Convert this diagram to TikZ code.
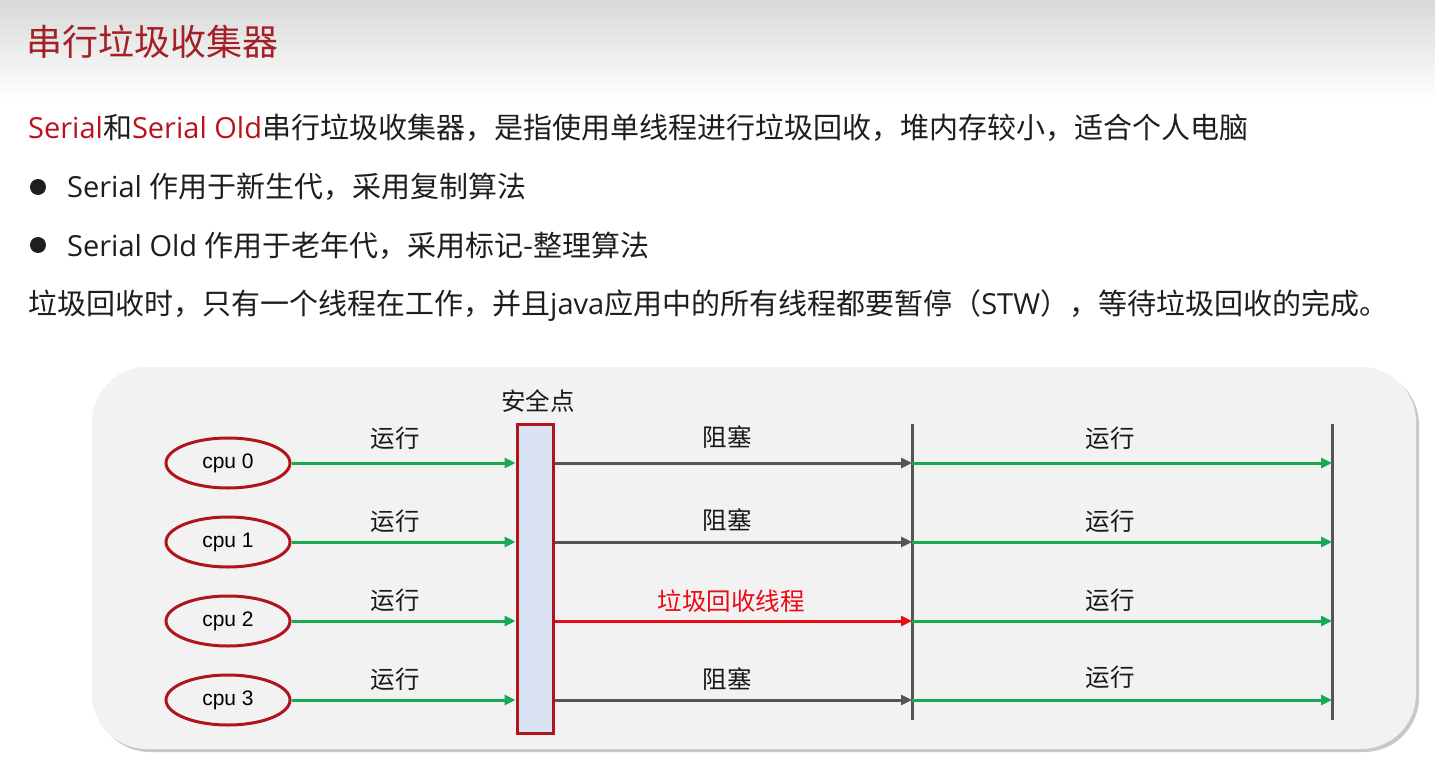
\documentclass[tikz,border=0pt]{standalone}
\usepackage{fontspec}
\setmainfont{Noto Sans CJK SC}
\newfontfamily\lat{Open Sans}
\newfontfamily\arialf{Liberation Sans}
\usetikzlibrary{arrows.meta,shapes.geometric}
\definecolor{titlered}{RGB}{163,32,38}
\definecolor{serred}{RGB}{185,18,28}
\definecolor{txt}{RGB}{30,30,30}
\definecolor{panel}{RGB}{242,242,242}
\definecolor{panelshadow}{RGB}{200,200,200}
\definecolor{ellred}{RGB}{176,20,28}
\definecolor{barblue}{RGB}{218,227,243}
\definecolor{arrgreen}{RGB}{24,170,80}
\definecolor{arrgrey}{RGB}{85,85,85}
\definecolor{gcred}{RGB}{235,10,20}
\tikzset{
  body/.style={anchor=base west, inner sep=0, text=txt, font=\fontsize{29}{34}\selectfont},
  cpu/.style={ellipse, draw=ellred, line width=3pt, fill=panel, minimum width=124pt, minimum height=50pt, inner sep=0, font=\arialf\fontsize{21}{24}\selectfont, text=black},
  lbl/.style={inner sep=0, text=black!90, font=\fontsize{24.5}{28}\selectfont},
  tipA/.style={-{Triangle[length=11pt,width=10pt]}, line width=3pt},
  garrow/.style={tipA, draw=arrgreen},
  karrow/.style={tipA, draw=arrgrey},
  rarrow/.style={tipA, draw=gcred},
  vline/.style={draw=arrgrey, line width=3pt}
}
\begin{document}
\begin{tikzpicture}[x=1pt,y=-1pt]
\useasboundingbox (0,0) rectangle (1435,762);
\fill[white] (0,0) rectangle (1435,762);
\shade[top color=black!15, bottom color=white] (0,0) rectangle (1435,100);
% title
\node[anchor=west, inner sep=0, text=titlered, font=\fontsize{36}{40}\selectfont] (title) at (26,42) {串行垃圾收集器};
% body text
\node[body] (l1) at (28,139) {\textcolor{serred}{\lat Serial}和\textcolor{serred}{\lat Serial Old}串行垃圾收集器，是指使用单线程进行垃圾回收，堆内存较小，适合个人电脑};
\node[circle, fill=txt, minimum size=16pt, inner sep=0] (b1) at (38,187) {};
\node[body] (l2) at (67,198) {{\lat Serial }作用于新生代，采用复制算法};
\node[circle, fill=txt, minimum size=16pt, inner sep=0] (b2) at (38,245) {};
\node[body] (l3) at (67,256) {{\lat Serial Old }作用于老年代，采用标记-整理算法};
\node[body] (l4) at (28,314) {垃圾回收时，只有一个线程在工作，并且{\lat java}应用中的所有线程都要暂停（{\lat STW}），等待垃圾回收的完成。};
% panel
\fill[panelshadow, rounded corners=55pt] (95,370) rectangle (1419,752);
\fill[panel, rounded corners=55pt] (92,367) rectangle (1416,749);
% cpus
\node[cpu] (c0) at (228,463) {cpu 0};
\node[cpu] (c1) at (228,542) {cpu 1};
\node[cpu] (c2) at (228,621) {cpu 2};
\node[cpu] (c3) at (228,700) {cpu 3};
% safepoint bar
\node[draw=ellred, fill=barblue, line width=3pt, minimum width=36pt, minimum height=309pt, inner sep=0] (sp) at (535,578.5) {};
\node[lbl] (spl) at (538,401) {安全点};
% vertical lines
\coordinate (v1t) at (912,424);
\coordinate (v1b) at (912,720);
\coordinate (v2t) at (1332,424);
\coordinate (v2b) at (1332,720);
\draw[vline] (v1t) -- (v1b);
\draw[vline] (v2t) -- (v2b);
% arrows
\foreach \i in {0,1,2,3} {
  \draw[garrow] (c\i.east) -- (sp.west |- c\i);
  \draw[garrow] (v1t |- c\i) -- (v2t |- c\i);
}
\draw[karrow] (sp.east |- c0) -- (v1t |- c0);
\draw[karrow] (sp.east |- c1) -- (v1t |- c1);
\draw[rarrow] (sp.east |- c2) -- (v1t |- c2);
\draw[karrow] (sp.east |- c3) -- (v1t |- c3);
% labels
\node[lbl] (r0) at (395,438) {运行};
\node[lbl] (r1) at (395,521) {运行};
\node[lbl] (r2) at (395,600) {运行};
\node[lbl] (r3) at (395,679) {运行};
\node[lbl] (k0) at (727,437) {阻塞};
\node[lbl] (k1) at (727,520) {阻塞};
\node[lbl, text=gcred] (k2) at (731,601) {垃圾回收线程};
\node[lbl] (k3) at (727,679) {阻塞};
\node[lbl] (s0) at (1110,438) {运行};
\node[lbl] (s1) at (1110,521) {运行};
\node[lbl] (s2) at (1110,600) {运行};
\node[lbl] (s3) at (1110,677) {运行};
\end{tikzpicture}
\end{document}
